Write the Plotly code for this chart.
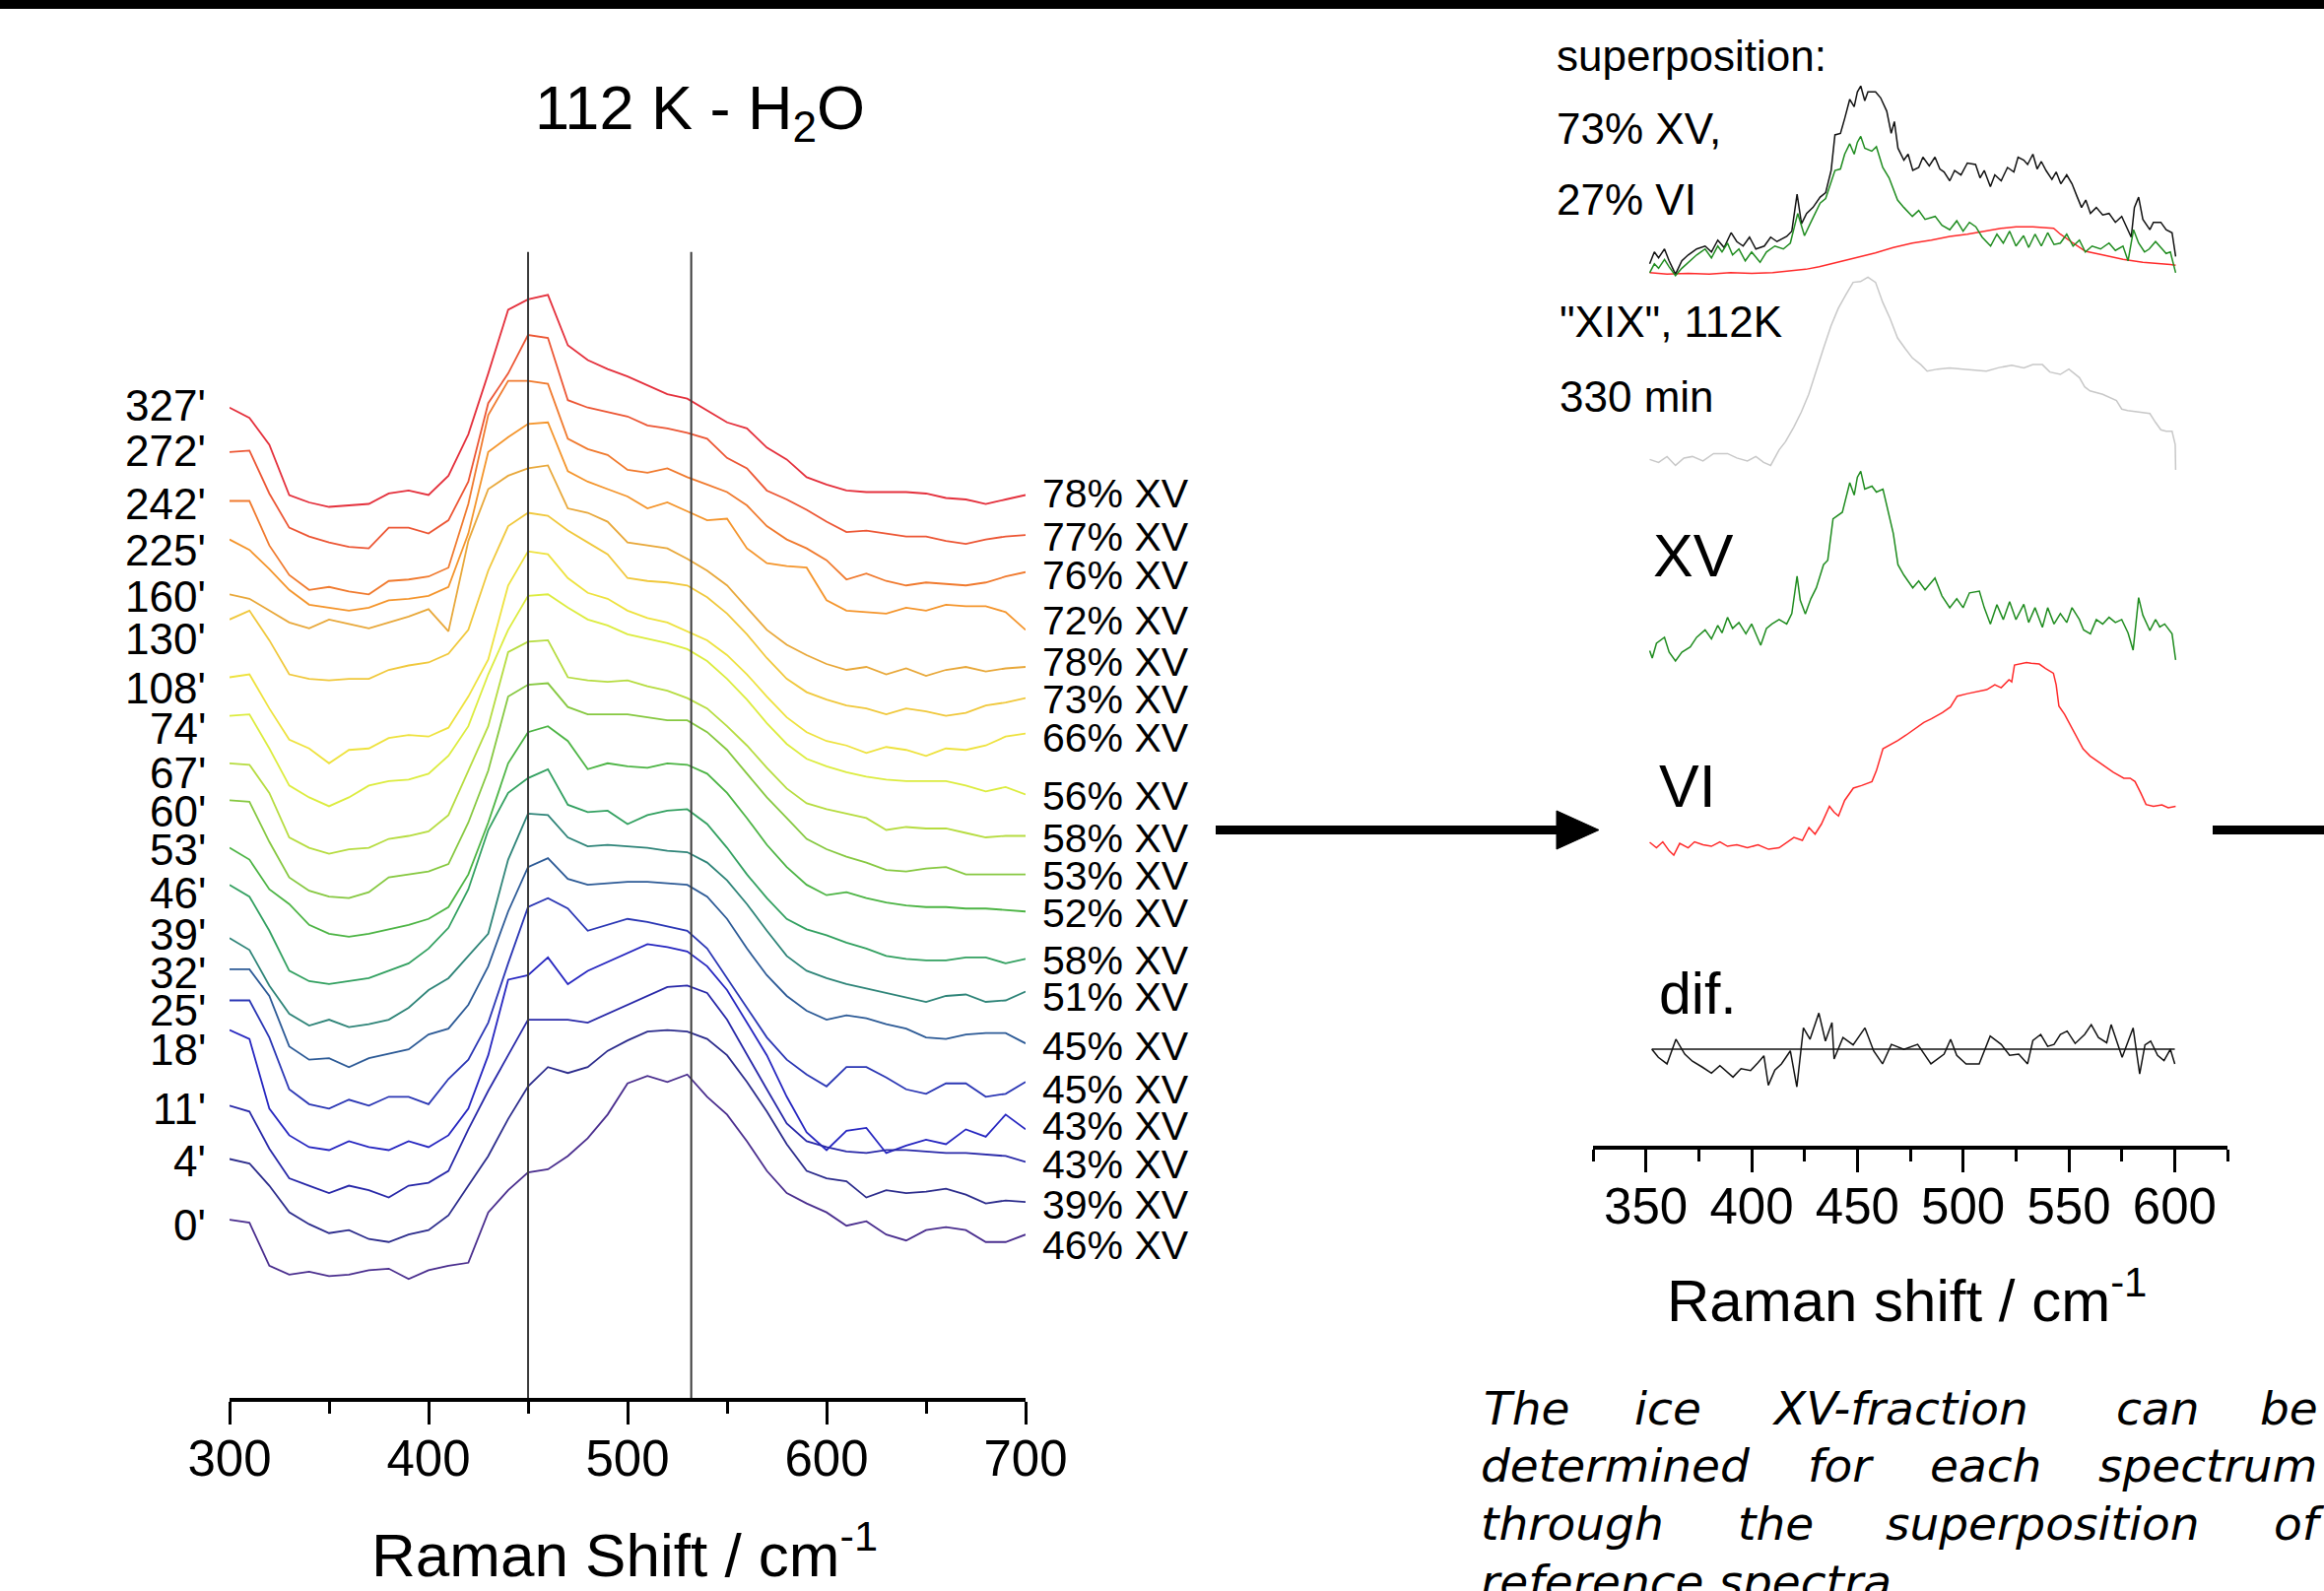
import plotly.graph_objects as go

W, H = 2359, 1615
FONT = "Liberation Sans, Arial, Helvetica, sans-serif"

# ------------------------------------------------------------------
# LEFT PANEL DATA: Raman spectra of H2O at 112 K, stacked (a.u.)
# ------------------------------------------------------------------
raman_shift_left = [300, 310, 320, 330, 340, 350, 360, 370, 380, 390,
                    400, 410, 420, 430, 440, 450, 460, 470, 480, 490,
                    500, 510, 520, 530, 540, 550, 560, 570, 580, 590,
                    600, 610, 620, 630, 640, 650, 660, 670, 680, 690, 700]

time_labels = ["327'", "272'", "242'", "225'", "160'", "130'", "108'", "74'", "67'", "60'",
               "53'", "46'", "39'", "32'", "25'", "18'", "11'", "4'", "0'"]
xv_labels = ["78% XV", "77% XV", "76% XV", "72% XV", "78% XV", "73% XV", "66% XV", "56% XV",
             "58% XV", "53% XV", "52% XV", "58% XV", "51% XV", "45% XV", "45% XV", "43% XV",
             "43% XV", "39% XV", "46% XV"]

spec_327 = [725, 718, 700, 666, 661, 658, 659, 660, 667, 669, 666, 679, 707, 748, 791, 798, 801, 767, 757, 751,
            746, 740, 734, 731, 723, 715, 711, 698, 690, 678, 673, 669, 668, 668, 668, 667, 664, 663, 660, 663, 666]
spec_272 = [695, 696, 667, 644, 638, 634, 631, 630, 644, 644, 640, 649, 675, 728, 748, 774, 772, 730, 725, 722,
            719, 713, 711, 708, 704, 691, 684, 669, 663, 656, 648, 641, 642, 640, 638, 638, 635, 633, 636, 638, 639]
spec_242 = [662, 662, 632, 612, 602, 604, 601, 599, 608, 609, 611, 617, 660, 720, 743, 743, 741, 704, 697, 693,
            683, 681, 684, 678, 673, 668, 659, 645, 636, 630, 622, 609, 613, 608, 605, 607, 606, 605, 607, 611, 614]
spec_225 = [636, 629, 616, 602, 592, 590, 588, 590, 595, 596, 598, 604, 640, 695, 705, 714, 715, 682, 675, 670,
            665, 657, 661, 655, 649, 650, 630, 620, 618, 617, 595, 588, 587, 586, 590, 588, 592, 591, 591, 587, 575]
spec_160 = [599, 596, 588, 580, 576, 582, 579, 576, 580, 584, 589, 574, 635, 670, 679, 684, 686, 657, 654, 648,
            634, 632, 630, 623, 615, 605, 590, 575, 565, 558, 552, 548, 550, 545, 549, 544, 548, 550, 547, 549, 550]
spec_130 = [582, 588, 568, 545, 542, 541, 542, 542, 548, 551, 553, 559, 575, 615, 645, 654, 652, 642, 634, 626,
            610, 608, 607, 605, 597, 586, 572, 556, 542, 533, 528, 524, 522, 518, 522, 520, 517, 519, 524, 526, 529]
spec_108 = [543, 545, 522, 501, 495, 485, 494, 495, 502, 504, 503, 509, 530, 555, 605, 628, 626, 610, 600, 596,
            588, 583, 580, 574, 568, 558, 545, 530, 516, 506, 500, 497, 492, 496, 494, 490, 495, 494, 497, 503, 505]
spec_74 = [517, 518, 495, 470, 462, 456, 462, 470, 473, 474, 478, 490, 510, 545, 575, 598, 599, 590, 582, 578,
           572, 569, 566, 562, 554, 542, 528, 512, 498, 488, 483, 479, 476, 474, 473, 473, 473, 470, 466, 469, 464]
spec_67 = [485, 484, 465, 435, 428, 424, 427, 428, 434, 436, 439, 450, 480, 510, 560, 567, 568, 543, 541, 540,
           541, 537, 534, 529, 522, 510, 497, 482, 468, 458, 454, 451, 448, 440, 442, 441, 441, 438, 435, 436, 436]
spec_60 = [460, 459, 432, 408, 399, 395, 394, 398, 408, 410, 412, 417, 445, 480, 530, 538, 539, 523, 518, 518,
           518, 516, 514, 514, 506, 494, 478, 462, 448, 434, 427, 422, 418, 413, 412, 414, 415, 410, 410, 410, 410]
spec_53 = [428, 420, 400, 390, 376, 370, 368, 370, 373, 376, 380, 388, 410, 445, 485, 506, 510, 500, 481, 485,
           483, 482, 485, 484, 478, 465, 448, 430, 415, 403, 396, 398, 394, 391, 389, 388, 388, 387, 387, 386, 385]
spec_46 = [403, 395, 372, 345, 338, 336, 338, 340, 345, 350, 360, 374, 400, 440, 465, 475, 481, 457, 452, 453,
           444, 450, 453, 454, 444, 428, 410, 394, 380, 373, 369, 364, 360, 355, 353, 352, 352, 354, 354, 350, 353]
spec_39 = [367, 359, 335, 316, 308, 312, 307, 309, 312, 320, 332, 340, 355, 370, 420, 451, 450, 435, 429, 430,
           429, 428, 426, 425, 418, 406, 390, 372, 355, 345, 340, 336, 333, 330, 327, 324, 328, 329, 324, 325, 331]
spec_32 = [346, 346, 328, 294, 285, 286, 280, 286, 289, 292, 302, 306, 322, 348, 385, 415, 421, 407, 403, 404,
           405, 405, 404, 403, 395, 380, 360, 342, 328, 318, 312, 315, 313, 309, 306, 300, 299, 302, 303, 303, 296]
spec_25 = [325, 325, 300, 265, 255, 252, 258, 254, 260, 260, 255, 272, 285, 310, 350, 388, 394, 387, 372, 376,
           380, 378, 375, 372, 360, 340, 320, 300, 285, 275, 267, 280, 280, 273, 265, 262, 269, 269, 260, 262, 270]
spec_18 = [305, 299, 252, 234, 226, 224, 230, 226, 224, 230, 226, 234, 252, 288, 339, 342, 354, 336, 345, 351,
           357, 363, 361, 358, 348, 332, 310, 288, 260, 236, 224, 237, 239, 222, 227, 231, 228, 238, 233, 248, 238]
spec_11 = [254, 250, 225, 205, 200, 195, 200, 197, 192, 200, 202, 210, 238, 264, 288, 312, 312, 312, 310, 316,
           322, 328, 334, 335, 330, 312, 288, 265, 242, 230, 226, 223, 222, 224, 224, 223, 222, 222, 221, 220, 216]
spec_4 = [218, 215, 200, 182, 174, 168, 170, 164, 162, 167, 170, 180, 200, 220, 245, 267, 280, 276, 280, 291,
          298, 304, 305, 304, 299, 288, 270, 250, 228, 210, 205, 203, 192, 197, 195, 196, 198, 194, 188, 190, 189]
spec_0 = [177, 175, 146, 140, 142, 139, 140, 143, 144, 137, 143, 146, 148, 182, 197, 209, 211, 220, 232, 248,
          269, 274, 270, 275, 260, 248, 230, 210, 195, 188, 182, 173, 176, 167, 163, 170, 172, 170, 162, 162, 167]

spectra_left = [spec_327, spec_272, spec_242, spec_225, spec_160, spec_130, spec_108, spec_74, spec_67,
                spec_60, spec_53, spec_46, spec_39, spec_32, spec_25, spec_18, spec_11, spec_4, spec_0]

marker_shifts = [450, 532]

# ------------------------------------------------------------------
# RIGHT PANEL DATA: reference spectra and superposition (a.u.)
# ------------------------------------------------------------------
sup_total_x = [351.8, 354, 356, 358.8, 361, 364, 367, 370, 374, 378, 381, 384, 387, 390.3, 393, 396, 399, 402, 406,
               409, 412, 416.6, 419, 421.5, 423.6, 426, 429, 432.4, 435, 437.6, 439.4, 442, 444, 446.4, 448.5, 450,
               451.6, 453.5, 455, 458.6, 461, 463.9, 466, 467.5, 469.2, 472, 474, 476.2, 479, 481, 484, 486.7, 489,
               491, 493.7, 496, 499, 502, 505.9, 508, 510, 512.9, 515, 518, 521, 524, 526, 528.7, 530.5, 533, 535,
               537, 539.2, 542, 544, 546.2, 549, 551.5, 554, 556, 558, 560.2, 563, 566, 569, 572, 575, 577.8, 579.5,
               581, 583, 585, 588.3, 590, 593.5, 596, 598.8, 600.5]
sup_total_y = [822, 830, 826, 832, 824, 815, 824, 828, 832, 834, 830, 838, 833, 843, 837, 834, 840, 832, 834, 840,
               837, 840.5, 844, 869, 849, 856, 860, 867, 870, 885, 909, 910, 920, 933, 928, 938, 942, 932, 938, 938,
               934, 925, 910, 918, 900, 892, 896, 885, 887, 894, 888, 894, 886, 884, 878, 885, 882, 890, 889, 880,
               885, 874, 882, 878, 887, 884, 894, 892, 889, 896, 886, 891, 885, 879, 884, 876, 882, 876, 867, 860,
               865, 856, 860, 855, 856, 850, 854, 845, 840, 860, 867, 852, 845, 850, 850, 845, 843, 827]

sup_xv_x = [351.8, 354, 356, 358.8, 361, 364, 367, 370, 374, 378, 381, 384, 386, 388.6, 391, 394, 397, 400, 404, 407,
            411, 415, 418.3, 421.8, 425, 428, 432.4, 435, 439.4, 442, 444, 446.4, 448.5, 450, 451.6, 453.5, 456.8,
            459, 462, 465, 469, 472, 476, 479, 482, 486.8, 490, 493.7, 497, 500, 503, 506, 509, 513, 516, 519, 522,
            525, 528.6, 531, 534, 537, 540, 543, 546, 549, 552, 555, 557.8, 561, 565, 569, 572, 575.6, 578, 580.6,
            583, 585.8, 588, 591, 593, 596, 598, 600.5]
sup_xv_y = [816, 822, 819, 825, 820, 814, 819, 823, 828, 832, 826, 834, 830, 836, 828, 832, 824, 830, 823, 830,
            834, 832, 836, 856, 841, 850, 863, 866, 885, 886, 896, 903, 896, 904, 908, 900, 898, 901, 887, 880,
            865, 860, 854, 858, 852, 854, 848, 845, 851, 844, 850, 847, 840, 834, 842, 836, 844, 834, 841, 833,
            842, 834, 843, 835, 836, 842, 834, 838, 830, 834, 832, 836, 831, 834, 824, 845, 836, 830, 832, 837,
            834, 829, 830, 816]

sup_vi_x = [351.8, 360, 370, 380, 390, 400, 410, 418, 425.6, 432, 440.8, 450, 458.5, 467, 476, 485, 493.7, 502, 511,
            518, 525, 533, 542.8, 546, 552, 557.8, 566, 575.6, 585, 592, 598, 600.5]
sup_vi_y = [816, 815, 815.5, 815, 816, 815.5, 816, 817, 818.3, 820, 823, 826, 829.4, 833, 836, 838, 840.5, 842, 844,
            846, 847, 847, 846, 842, 836, 830.5, 828, 825, 823, 822.5, 821.6, 821]

xix_x = [351.8, 356, 360, 364, 368, 372, 377, 382, 388.6, 393, 398, 402, 405.7, 409, 413, 416, 420, 423.5, 427, 430.5,
         434, 437.5, 441, 444.5, 448, 451.5, 455, 458.6, 462, 465.5, 469, 472.5, 476, 480, 483, 488, 493.7, 500, 506,
         511, 517, 523, 528.7, 533, 537.5, 541, 546, 550, 555, 557.5, 560, 566, 572.5, 575, 577.8, 583, 588.3, 591,
         593.5, 596, 598.8, 600.3, 600.5]
xix_y = [690, 688, 692, 686, 691, 692, 689, 694, 694, 691, 689, 692, 688, 686, 696.5, 702, 712, 722, 734, 750,
         765, 780, 792, 801, 809.5, 810, 813, 809.5, 796, 785, 772, 765, 758.5, 754, 749.6, 751, 751.8, 751, 750,
         749.6, 752, 753.5, 751.8, 754, 754, 749, 747.4, 751, 745.2, 739, 736.3, 734, 729.7, 724, 723, 722, 721,
         715, 710, 709, 709, 700, 683]

ref_xv_x = [351.8, 353, 355, 358.8, 361, 364, 367, 371, 374, 378, 381, 384, 386, 388.6, 391, 394, 397.3, 400, 404.3,
            407, 409.6, 413, 416.6, 419, 421.5, 423, 425.4, 428, 430.6, 432, 434, 436, 438.5, 442.9, 444.5, 446.4,
            448.5, 450, 451.6, 453.5, 456.9, 459, 462.1, 465.6, 467, 469.2, 472, 476.2, 479, 482, 486.7, 490, 493.7,
            497, 500, 503, 507.7, 510, 512.9, 516, 519, 522, 525, 528.7, 531, 534, 537.5, 540, 543, 546, 549, 551.5,
            555, 557, 560.2, 563, 566, 569, 572, 575, 578, 580.4, 583, 585, 588.3, 591, 593, 595.3, 598.8, 600.5]
ref_xv_y = [561, 556, 566, 570, 560, 554, 560, 563.5, 570, 575, 569, 578, 573, 583.5, 576, 580, 572.4, 579, 564.6,
            576, 579, 582, 579, 586, 611.2, 595, 585.7, 596, 603.4, 610, 619, 622, 650, 654.4, 663, 674.3, 666, 678,
            682, 670, 672, 668, 670, 650, 640, 619, 612, 603.4, 608, 602, 610, 598, 590, 596, 590, 600, 601.2, 590,
            579, 592, 582, 594, 582, 592.3, 580, 590, 576.8, 590, 579, 586, 580, 590, 582, 575, 572.4, 582, 579,
            583.5, 580, 582, 573, 561.3, 596.8, 585, 574.6, 582, 577, 579, 572.4, 554.7]

ref_vi_x = [351.8, 355, 358, 361, 363.2, 366, 370, 373, 377, 381, 385, 388.6, 393, 398, 403, 408, 413, 417, 420, 424,
            427.1, 430, 433, 436.8, 439, 441.1, 444, 448.1, 452, 456.9, 459, 462.1, 465, 469.2, 473, 477, 481.4, 485,
            490.2, 494, 497.2, 502, 506, 511.2, 515, 518, 521.7, 523, 524.3, 527, 530, 532.2, 536, 539, 542.7, 544,
            545.3, 548, 551, 554, 556.7, 560, 563.7, 567, 571, 576, 579, 581.3, 584, 586.5, 590, 594, 597, 600.5]
ref_vi_y = [431.7, 428, 432, 426, 423, 431, 428, 432, 430, 429, 432, 429, 430, 428, 430, 427, 428, 432, 435, 433,
            441.7, 437.2, 444, 456, 452, 449.5, 460, 468.3, 470, 472.7, 480, 494.8, 497, 500.4, 504, 508, 512.6,
            515, 519.2, 523, 530.3, 532, 533, 534.7, 538, 536, 541.4, 540, 551.3, 552, 553, 552.5, 552, 549, 545.8,
            538, 523.6, 518, 510, 503, 494.8, 490, 486, 483, 479, 475, 475, 472.7, 465, 457.2, 456, 457, 455, 456]

dif_x = [352.8, 355.9, 360, 364.2, 368.4, 372, 376.7, 381, 385, 391.2, 395, 399.5, 403, 405.8, 407.9, 411, 414.1,
         418.3, 421.4, 424.5, 427.6, 431.8, 434.9, 438, 439, 443.2, 448, 453.6, 457.7, 461.9, 466.1, 472, 478.5,
         484.8, 491, 494.1, 497, 501.4, 507.6, 512.8, 518, 522, 526.3, 530.5, 533, 536.7, 540, 543, 546, 549.2, 553,
         557.5, 560.6, 564, 567.9, 570, 575.2, 580.4, 583.5, 586, 588.7, 592, 595, 598, 600.1]
dif_y = [292.1, 286.6, 282.2, 298.8, 288.8, 284, 280, 276, 281, 273.3, 279, 277.7, 283, 287.7, 267.8, 278, 282.2,
         291, 266.7, 306.5, 298.8, 316.5, 297.6, 310, 285.5, 300, 295, 306.5, 291, 282.2, 295.4, 292, 295.4, 282.2,
         288.8, 298.8, 288, 282.2, 282.2, 301, 295.4, 288, 288.8, 282.2, 298, 302.1, 294, 295.4, 302, 304.3, 296,
         302.1, 308.7, 300, 296.5, 308.7, 286.6, 306.5, 275.5, 295, 297.6, 288, 284.4, 292.1, 282.2]
dif_zero = 292.1
dif_span = [352.8, 600.1]

# ------------------------------------------------------------------
# STYLES / LAYOUT POSITIONS (pixels of the 2359x1615 canvas)
# ------------------------------------------------------------------
colors_left = ["#e4303c", "#ec5634", "#f07a2e", "#f4952c", "#e8a83a", "#f0c83c", "#eee23e", "#dcec3e",
               "#b6dc40", "#86c840", "#4cb444", "#32a060", "#2e8478", "#2c5a96", "#2a36b4", "#2626c0",
               "#2828a8", "#2c2c8c", "#4a2e8e"]
time_label_y = [412, 457, 511.5, 558, 605, 648, 698, 740, 784, 823, 862, 906, 949, 987, 1025, 1065, 1125, 1178, 1243]
xv_label_y = [501, 545, 584, 630, 672, 710, 749, 808, 851, 889, 927, 975, 1012, 1062, 1106, 1143, 1182, 1223, 1264]


def px(x):
    return x / W


def py(y):
    return 1 - y / H


fig = go.Figure()

for vals, col in zip(spectra_left, colors_left):
    fig.add_trace(go.Scatter(x=raman_shift_left, y=vals, mode="lines",
                             line=dict(color=col, width=1.8), xaxis="x", yaxis="y",
                             showlegend=False, hoverinfo="skip"))

right_traces = [
    (sup_vi_x, sup_vi_y, "#ff2a2a"),
    (sup_total_x, sup_total_y, "#111111"),
    (sup_xv_x, sup_xv_y, "#1f8c1f"),
    (xix_x, xix_y, "#c8c8c8"),
    (ref_xv_x, ref_xv_y, "#1f8c1f"),
    (ref_vi_x, ref_vi_y, "#ff2a2a"),
    (dif_x, dif_y, "#111111"),
]
for xs, ys, col in right_traces:
    fig.add_trace(go.Scatter(x=xs, y=ys, mode="lines", line=dict(color=col, width=1.5),
                             xaxis="x2", yaxis="y2", showlegend=False, hoverinfo="skip"))

shapes = []
# black bar at the top
shapes.append(dict(type="rect", xref="paper", yref="paper", x0=0, x1=1, y0=py(9), y1=1,
                   fillcolor="black", line=dict(width=0)))
# vertical marker lines in the left plot
for m in marker_shifts:
    shapes.append(dict(type="line", xref="x", yref="y", x0=m, x1=m, y0=56.8, y1=830,
                       line=dict(color="#3a3a3a", width=2)))
# zero line of the difference spectrum
shapes.append(dict(type="line", xref="x2", yref="y2", x0=dif_span[0], x1=dif_span[1],
                   y0=dif_zero, y1=dif_zero, line=dict(color="#111111", width=1.6)))
# big arrow
shapes.append(dict(type="line", xref="paper", yref="paper", x0=px(1234), x1=px(1590),
                   y0=py(842.5), y1=py(842.5), line=dict(color="black", width=9)))
shapes.append(dict(type="path", xref="paper", yref="paper",
                   path=f"M {px(1580)},{py(823)} L {px(1623)},{py(842.5)} L {px(1580)},{py(862)} Z",
                   fillcolor="black", line=dict(color="black", width=1)))
shapes.append(dict(type="line", xref="paper", yref="paper", x0=px(2246), x1=1.0,
                   y0=py(842.5), y1=py(842.5), line=dict(color="black", width=9)))

ann = []


def add_text(text, x, y, size, xanchor="center", family=FONT):
    ann.append(dict(text=text, x=px(x), y=py(y), xref="paper", yref="paper", showarrow=False,
                    xanchor=xanchor, yanchor="middle", font=dict(size=size, family=family, color="black")))


add_text("112 K - H<sub>2</sub>O", 710, 114, 63)
add_text("Raman Shift / cm<sup>-1</sup>", 634, 1574, 62)
add_text("Raman shift / cm<sup>-1</sup>", 1935, 1316, 60)

for t, y in zip(time_labels, time_label_y):
    add_text(t, 211, y, 44, xanchor="right")
for t, y in zip(xv_labels, xv_label_y):
    add_text(t, 1056, y, 41, xanchor="left")

add_text("superposition:", 1578, 56, 44, xanchor="left")
add_text("73% XV,", 1578, 130, 44, xanchor="left")
add_text("27% VI", 1578, 203, 44, xanchor="left")
add_text("\"XIX\", 112K", 1581, 326, 44, xanchor="left")
add_text("330 min", 1581, 403, 44, xanchor="left")
add_text("XV", 1676, 564, 61, xanchor="left")
add_text("VI", 1682, 798, 61, xanchor="left")
add_text("dif.", 1682, 1009, 59, xanchor="left")

para_font = "DejaVu Sans, Verdana, sans-serif"
para_words = [
    (1429, [("The", 1504), ("ice", 1657), ("XV-fraction", 1796), ("can", 2146), ("be", 2292)]),
    (1487, [("determined", 1501), ("for", 1833), ("each", 1957), ("spectrum", 2128)]),
    (1546, [("through", 1501), ("the", 1762), ("superposition", 1912), ("of", 2306)]),
    (1605, [("reference spectra.", 1501)]),
]
for yline, words in para_words:
    for wtxt, xw in words:
        add_text(f"<i>{wtxt}</i>", xw, yline, 47, xanchor="left", family=para_font)

tickfont = dict(size=51, family=FONT, color="black")

fig.update_layout(
    width=W, height=H,
    margin=dict(l=0, r=0, t=0, b=0, pad=0, autoexpand=False),
    paper_bgcolor="white", plot_bgcolor="rgba(0,0,0,0)",
    showlegend=False, hovermode=False,
    xaxis=dict(domain=[px(233), px(1041)], range=[300, 700], anchor="y",
               showline=True, linewidth=3.5, linecolor="black", mirror=False,
               ticks="outside", ticklen=23, tickwidth=3, tickcolor="black",
               tickmode="array", tickvals=[300, 400, 500, 600, 700], tickfont=tickfont,
               ticklabelstandoff=-9,
               minor=dict(tickmode="array", tickvals=[350, 450, 550, 650], ticks="outside",
                          ticklen=12, tickwidth=3, tickcolor="black"),
               showgrid=False, zeroline=False),
    yaxis=dict(domain=[py(1419), 1], range=[56.8, 1000], visible=False, anchor="x"),
    xaxis2=dict(domain=[px(1617), px(2261)], range=[325, 625], anchor="y2",
                showline=True, linewidth=3.5, linecolor="black",
                ticks="outside", ticklen=23, tickwidth=3, tickcolor="black",
                tickmode="array", tickvals=[350, 400, 450, 500, 550, 600], tickfont=tickfont,
                ticklabelstandoff=-9,
                minor=dict(tickmode="array", tickvals=[325, 375, 425, 475, 525, 575, 625], ticks="outside",
                           ticklen=12, tickwidth=3, tickcolor="black"),
                showgrid=False, zeroline=False),
    yaxis2=dict(domain=[py(1163), 1], range=[227, 1000], visible=False, anchor="x2"),
    shapes=shapes,
    annotations=ann,
)

fig.write_html("out.html")
